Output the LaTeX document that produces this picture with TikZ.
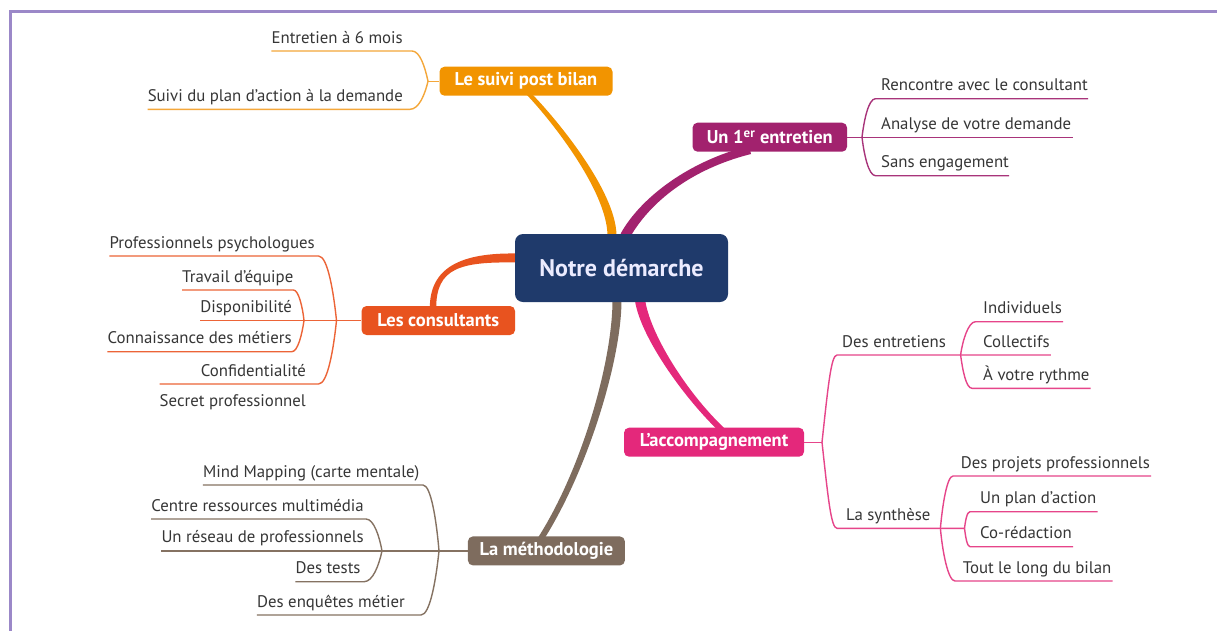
\documentclass[tikz,border=0pt]{standalone}
\usepackage{fontspec}
\setmainfont{PT Sans}
\usetikzlibrary{calc,backgrounds}
\definecolor{frameC}{HTML}{9B88C8}
\definecolor{navy}{HTML}{1F3A6B}
\definecolor{cOr}{HTML}{F29400}
\definecolor{cPu}{HTML}{A2226E}
\definecolor{cRe}{HTML}{E8531F}
\definecolor{cPi}{HTML}{E4287B}
\definecolor{cBr}{HTML}{7E6C5E}
\definecolor{lOr}{HTML}{F4A73A}
\definecolor{lPu}{HTML}{A8347A}
\definecolor{lRe}{HTML}{EC6437}
\definecolor{lPi}{HTML}{E6458A}
\definecolor{lBr}{HTML}{857262}
\definecolor{txt}{HTML}{363636}
\newcommand\branch[7]{%
  \fill[#1] ($(#2)+(#6)$) .. controls ($(#3)+(#6)$) and ($(#4)+(#7)$) .. ($(#5)+(#7)$)
    -- ($(#5)-(#7)$) .. controls ($(#4)-(#7)$) and ($(#3)-(#6)$) .. ($(#2)-(#6)$) -- cycle;}
\tikzset{
  box/.style={rounded corners=5pt, inner sep=0pt, minimum height=29pt, text=white,
    font=\fontsize{18.5}{18.5}\selectfont\bfseries},
  item/.style={inner sep=0pt, text=txt, font=\fontsize{16.8}{16.8}\selectfont},
  ln/.style={line width=1.4pt}
}
\begin{document}
\begin{tikzpicture}[x=1pt,y=-1pt]
\useasboundingbox (0,0) rectangle (1217,630);
% boxes
\node[box, fill=navy, minimum width=213pt, minimum height=68pt, rounded corners=8pt,
  font=\fontsize{24}{24}\selectfont\bfseries, text=white!92!blue] (c) at (621.5,268) {Notre démarche};
\node[box, fill=cOr, minimum width=173pt] (suivi) at (526,81.2) {Le suivi post bilan};
\node[box, fill=cPu, minimum width=154.5pt] (un) at (769.8,137.2) {Un 1\textsuperscript{er} entretien};
\node[box, fill=cRe, minimum width=153.5pt] (cons) at (438.3,320.5) {Les consultants};
\node[box, fill=cPi, minimum width=180pt] (acc) at (714,442.2) {L’accompagnement};
\node[box, fill=cBr, minimum width=157pt] (meth) at (546.4,550.9) {La méthodologie};

% thick branches
\coordinate (oA) at (612,236); \coordinate (oP) at (612,190); \coordinate (oQ) at (550,115); \coordinate (oB) at (527,92);
\coordinate (pA) at (625,236); \coordinate (pP) at (645,200); \coordinate (pQ) at (690,165); \coordinate (pB) at (750,150);
\coordinate (rA) at (517,258); \coordinate (rP) at (460,257); \coordinate (rQ) at (433,268); \coordinate (rB) at (433,308);
\coordinate (kA) at (640,300); \coordinate (kP) at (645,335); \coordinate (kQ) at (685,395); \coordinate (kB) at (722,430);
\coordinate (bA) at (617,300); \coordinate (bP) at (617,360); \coordinate (bQ) at (585,470); \coordinate (bB) at (540,540);
\begin{scope}[on background layer]
\fill[white] (0,0) rectangle (1217,630);
\draw[frameC, line width=2.8pt] (10.3,632) -- (10.3,11.3) -- (1219,11.3);
\branch{cOr}{oA}{oP}{oQ}{oB}{4.5,0}{3,0}
\branch{cPu}{pA}{pP}{pQ}{pB}{4.3,2.5}{1,4}
\branch{cRe}{rA}{rP}{rQ}{rB}{0,4.5}{3.2,0}
\branch{cPi}{kA}{kP}{kQ}{kB}{5,-0.7}{2,-2.2}
\branch{cBr}{bA}{bP}{bQ}{bB}{4.5,0}{2.5,1.6}
\end{scope}

% ---- Le suivi post bilan
\coordinate (sJ) at (428,81.2);
\draw[ln,lOr] (sJ) -- (suivi.west);
\coordinate (sE1) at (412,51);
\node[item, anchor=base east] (s1) at (403,43) {Entretien à 6 mois};
\draw[ln,lOr] (s1.west |- sE1) -- (sE1) .. controls +(8,0) and +(-3,-14) .. (sJ);
\coordinate (sE2) at (410,109.3);
\node[item, anchor=base east] (s2) at (403,101.3) {Suivi du plan d’action à la demande};
\draw[ln,lOr] (s2.west |- sE2) -- (sE2) .. controls +(9,0) and +(-3,13) .. (sJ);

% ---- Un 1er entretien
\coordinate (uJ) at (862,137.2);
\draw[ln,lPu] (un.east) -- (uJ);
\node[item, anchor=base west] (u2) at (881,129.2) {Analyse de votre demande};
\draw[ln,lPu] (uJ) -- ($(u2.east |- uJ)+(2,0)$);
\coordinate (uS1) at (875.5,98.7);
\node[item, anchor=base west] (u1) at (881,90.7) {Rencontre avec le consultant};
\draw[ln,lPu] (uJ) .. controls +(2,-17) and +(-7,0) .. (uS1) -- (u1.east |- uS1);
\coordinate (uS3) at (875.5,175.7);
\node[item, anchor=base west] (u3) at (881,167.7) {Sans engagement};
\draw[ln,lPu] (uJ) .. controls +(2,17) and +(-7,0) .. (uS3) -- (u3.east |- uS3);

% ---- Les consultants
\coordinate (cJ) at (336.5,320.5);
\coordinate (cJ2) at (304,320.5);
\node[item, anchor=base east] (c3) at (292,312.5) {Disponibilité};
\draw[ln,lRe] (c3.west |- cJ) -- (cons.west);
\coordinate (cE1) at (318.6,256);
\node[item, anchor=base east] (c1) at (315,248) {Professionnels psychologues};
\draw[ln,lRe] (c1.west |- cE1) -- (cE1) .. controls +(9,0) and +(-3,-29) .. (cJ);
\coordinate (cE2) at (293.5,290);
\node[item, anchor=base east] (c2) at (293.5,282) {Travail d’équipe};
\draw[ln,lRe] (c2.west |- cE2) -- (cE2) .. controls +(5,0) and +(-1.5,-14) .. (cJ2);
\coordinate (cE4) at (291.8,351.7);
\node[item, anchor=base east] (c4) at (291.8,343.7) {Connaissance des métiers};
\draw[ln,lRe] (c4.west |- cE4) -- (cE4) .. controls +(6,0) and +(-2,14) .. (cJ2);
\coordinate (cE5) at (318.6,384);
\node[item, anchor=base east] (c5) at (306,376) {Confidentialité};
\node[item, anchor=base east] (c6) at (306,406) {Secret professionnel};
\draw[ln,lRe] (c6.west |- cE5) -- (cE5) .. controls +(9,0) and +(-3,29) .. (cJ);

% ---- La methodologie
\coordinate (mJ) at (439,550.9);
\coordinate (mJ2) at (382,550.9);
\node[item, anchor=base east] (m3) at (364,542.9) {Un réseau de professionnels};
\draw[ln,lBr] (m3.west |- mJ) -- (meth.west);
\coordinate (mE1) at (423,485);
\node[item, anchor=base east] (m1) at (419.6,477) {Mind Mapping (carte mentale)};
\draw[ln,lBr] (m1.west |- mE1) -- (mE1) .. controls +(8,0) and +(-2.5,-30) .. (mJ);
\coordinate (mE5) at (421,615);
\node[item, anchor=base east] (m5) at (405,607) {Des enquêtes métier};
\draw[ln,lBr] (m5.west |- mE5) -- (mE5) .. controls +(9,0) and +(-3,29) .. (mJ);
\coordinate (mE2) at (366,519);
\node[item, anchor=base east] (m2) at (364,511) {Centre ressources multimédia};
\draw[ln,lBr] (m2.west |- mE2) -- (mE2) .. controls +(8,0) and +(-2.5,-14) .. (mJ2);
\coordinate (mE4) at (364,581.7);
\node[item, anchor=base east] (m4) at (360.7,573.7) {Des tests};
\draw[ln,lBr] (m4.west |- mE4) -- (mE4) .. controls +(9,0) and +(-3,14) .. (mJ2);

% ---- L'accompagnement
\coordinate (aJ) at (822,442.2);
\draw[ln,lPi] (acc.east) -- (aJ);
\coordinate (aS1) at (837,355);
\coordinate (aJ2) at (960.6,355);
\node[item, anchor=base west] (a1) at (842,347) {Des entretiens};
\node[item, anchor=base west] (a12) at (983,347) {Collectifs};
\draw[ln,lPi] (aJ) .. controls +(6,-55) and +(-6,0) .. (aS1) -- ($(a12.east |- aS1)+(1,0)$);
\coordinate (aS11) at (975.5,321.7);
\node[item, anchor=base west] (a11) at (983,313.7) {Individuels};
\draw[ln,lPi] (aJ2) .. controls +(2,-15) and +(-7,0) .. (aS11) -- ($(a11.east |- aS11)+(1,0)$);
\coordinate (aS13) at (972,388.3);
\node[item, anchor=base west] (a13) at (983,380.3) {À votre rythme};
\draw[ln,lPi] (aJ2) .. controls +(2,15) and +(-6,0) .. (aS13) -- ($(a13.east |- aS13)+(1,0)$);
\coordinate (aS2) at (837,528.3);
\coordinate (aJ3) at (940.4,528.3);
\coordinate (aJ4) at (964.5,528.3);
\node[item, anchor=base west] (a2) at (846,520.3) {La synthèse};
\draw[ln,lPi] (aJ) .. controls +(6,55) and +(-6,0) .. (aS2) -- (aJ3) -- (aJ4);
\coordinate (aS21) at (953,476);
\node[item, anchor=base west] (a21) at (960.7,468) {Des projets professionnels};
\draw[ln,lPi] (aJ3) .. controls +(2,-23) and +(-6,0) .. (aS21) -- ($(a21.east |- aS21)+(1,0)$);
\coordinate (aS24) at (955,581);
\node[item, anchor=base west] (a24) at (962.6,573) {Tout le long du bilan};
\draw[ln,lPi] (aJ3) .. controls +(2,23) and +(-7,0) .. (aS24) -- ($(a24.east |- aS24)+(1,0)$);
\coordinate (aS22) at (970,511.7);
\node[item, anchor=base west] (a22) at (980,503.7) {Un plan d’action};
\draw[ln,lPi] (aJ4) .. controls +(1,-8) and +(-3,0) .. (aS22) -- ($(a22.east |- aS22)+(1,0)$);
\coordinate (aS23) at (970,546.7);
\node[item, anchor=base west] (a23) at (980,538.7) {Co-rédaction};
\draw[ln,lPi] (aJ4) .. controls +(1,8) and +(-3,0) .. (aS23) -- ($(a23.east |- aS23)+(1,0)$);
\end{tikzpicture}
\end{document}
